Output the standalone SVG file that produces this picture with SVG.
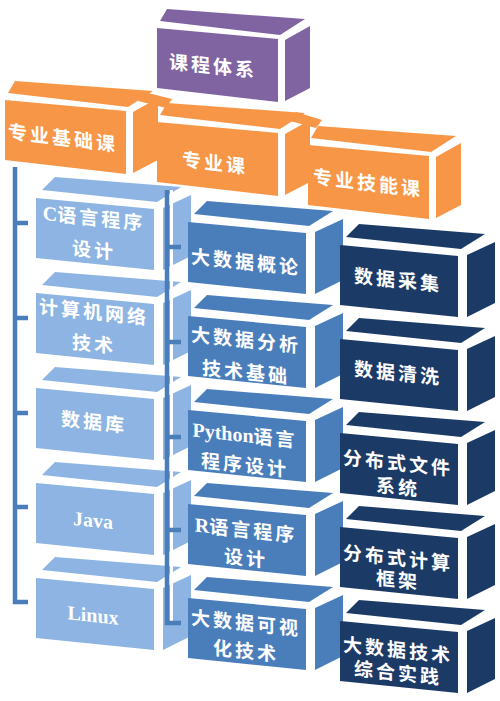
<svg xmlns="http://www.w3.org/2000/svg" width="500" height="701" viewBox="0 0 500 701">
<style>
.t{fill:#fff;font-family:"Liberation Serif","Noto Sans CJK SC",serif;font-weight:bold;font-size:19px;letter-spacing:3px;text-anchor:middle}
.la{font-size:20px;letter-spacing:0}
.pu{fill:#8064A2}
.or{fill:#F79646}
.lb{fill:#8DB4E2}
.mb{fill:#4A7EBB}
.nv{fill:#1C3A66}
.ln{fill:none;stroke:#4A7EBB;stroke-width:4.5;stroke-linejoin:miter}
.wh{fill:none;stroke:#fff;stroke-width:3}
</style>
<defs>
<g id="cube">
<polygon points="6,-8 19,-21 145,-11 121,4"/>
<polygon points="0,0 118,11 118,72 0,60"/>
<polygon points="127,10 155,-3 155,58 127,72"/>
</g>
<g id="big">
<polygon points="3,-7 10,-19 148,-9 123,7"/>
<polygon points="0,0 121,11 121,74 0,60"/>
<polygon points="128,12 153,-2 153,60 128,73"/>
</g>
</defs>
<rect width="500" height="701" fill="#fff"/>

<g id="root">
<use href="#big" x="157" y="28" class="pu"/>
<text class="t" transform="translate(213,66) skewY(6)" y="7">课程体系</text>
</g>

<g id="junctions" class="or">
<polygon points="144,92 172,99 166,108 138,101"/>
<polygon points="296,112 322,120 316,128 290,121"/>
</g>

<g id="cat1">
<use href="#big" x="5" y="100" class="or"/>
<text class="t" transform="translate(63,138) skewY(7)" y="7">专业基础课</text>
</g>
<g id="cat2">
<use href="#big" x="157" y="122" class="or"/>
<text class="t" transform="translate(215,163) skewY(7)" y="7">专业课</text>
</g>
<g id="cat3">
<use href="#big" x="308" y="145" class="or"/>
<text class="t" transform="translate(368,183) skewY(7)" y="7">专业技能课</text>
</g>

<g id="b1">
<use href="#cube" x="36" y="198" class="lb"/>
<text class="t" transform="translate(94,234) skewY(6)"><tspan x="0" y="-9"><tspan class="la">C</tspan>语言程序</tspan><tspan x="0" y="23">设计</tspan></text>
</g>
<g id="b2">
<use href="#cube" x="36" y="293" class="lb"/>
<text class="t" transform="translate(94,328) skewY(6)"><tspan x="0" y="-9">计算机网络</tspan><tspan x="0" y="23">技术</tspan></text>
</g>
<g id="b3">
<use href="#cube" x="36" y="388" class="lb"/>
<text class="t" transform="translate(94,422) skewY(6)" y="7">数据库</text>
</g>
<g id="b4">
<use href="#cube" x="36" y="483" class="lb"/>
<text class="t la" transform="translate(93,520) skewY(6)" y="7">Java</text>
</g>
<g id="b5">
<use href="#cube" x="36" y="578" class="lb"/>
<text class="t la" transform="translate(93,615) skewY(6)" y="7">Linux</text>
</g>

<g id="connectors">
<path class="ln" d="M15,167 V602 H28 M15,223 H28 M15,318 H28 M15,413 H28 M15,507 H28"/>
<path class="wh" d="M171.5,190 V625"/>
<path class="ln" d="M167,190 V623 H181 M167,247 H181 M167,342 H181 M167,437 H181 M167,530 H181"/>
</g>

<g id="m1">
<use href="#cube" x="188" y="222" class="mb"/>
<text class="t" transform="translate(246,262) skewY(6)" y="7">大数据概论</text>
</g>
<g id="m2">
<use href="#cube" x="188" y="316" class="mb"/>
<text class="t" transform="translate(246,356) skewY(6)"><tspan x="0" y="-9">大数据分析</tspan><tspan x="0" y="23">技术基础</tspan></text>
</g>
<g id="m3">
<use href="#cube" x="188" y="410" class="mb"/>
<text class="t" transform="translate(245,450) skewY(6)"><tspan x="0" y="-8"><tspan class="la">Python</tspan>语言</tspan><tspan x="0" y="22">程序设计</tspan></text>
</g>
<g id="m4">
<use href="#cube" x="188" y="504" class="mb"/>
<text class="t" transform="translate(246,544) skewY(6)"><tspan x="0" y="-7"><tspan class="la">R</tspan>语言程序</tspan><tspan x="0" y="21">设计</tspan></text>
</g>
<g id="m5">
<use href="#cube" x="188" y="598" class="mb"/>
<text class="t" transform="translate(246,637) skewY(6)"><tspan x="0" y="-7">大数据可视</tspan><tspan x="0" y="21">化技术</tspan></text>
</g>

<g id="s1">
<use href="#cube" x="340" y="245" class="nv"/>
<text class="t" transform="translate(398,280) skewY(6)" y="7">数据采集</text>
</g>
<g id="s2">
<use href="#cube" x="340" y="339" class="nv"/>
<text class="t" transform="translate(398,373) skewY(6)" y="7">数据清洗</text>
</g>
<g id="s3">
<use href="#cube" x="340" y="433" class="nv"/>
<text class="t" transform="translate(398,475) skewY(6)"><tspan x="0" y="-5">分布式文件</tspan><tspan x="0" y="19">系统</tspan></text>
</g>
<g id="s4">
<use href="#cube" x="340" y="527" class="nv"/>
<text class="t" transform="translate(398,569) skewY(6)"><tspan x="0" y="-4">分布式计算</tspan><tspan x="0" y="18">框架</tspan></text>
</g>
<g id="s5">
<use href="#cube" x="340" y="621" class="nv"/>
<text class="t" transform="translate(398,661) skewY(6)"><tspan x="0" y="-4">大数据技术</tspan><tspan x="0" y="19">综合实践</tspan></text>
</g>
</svg>
